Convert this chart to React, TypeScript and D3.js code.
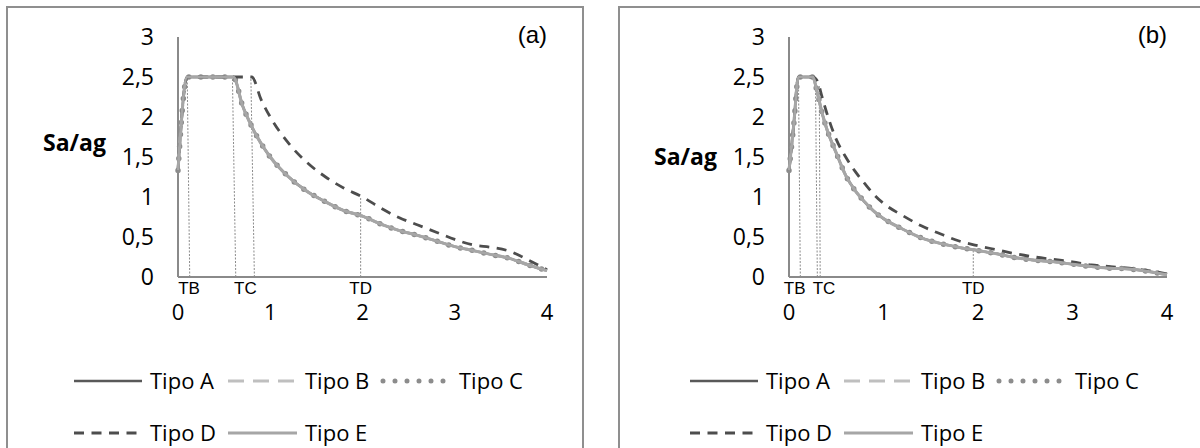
import React from "react";
import * as d3 from "d3";

// ---------- data ----------
const T_PANEL_A = [0, 0.1, 0.2, 0.3, 0.4, 0.5, 0.6, 0.7, 0.8, 0.9, 1.0, 1.2, 1.4, 1.6, 1.8, 2.0, 2.2, 2.4, 2.6, 2.8, 3.0, 3.2, 3.4, 3.6, 3.8, 4.0];
const MAIN_A = [1.33, 2.5, 2.5, 2.5, 2.5, 2.5, 2.5, 2.14, 1.88, 1.67, 1.5, 1.25, 1.07, 0.94, 0.83, 0.76, 0.66, 0.58, 0.52, 0.45, 0.38, 0.33, 0.28, 0.23, 0.15, 0.08];
const TIPO_D_A = [1.33, 2.5, 2.5, 2.5, 2.5, 2.5, 2.5, 2.5, 2.5, 2.22, 2.0, 1.67, 1.43, 1.25, 1.11, 1.0, 0.86, 0.74, 0.65, 0.56, 0.47, 0.4, 0.37, 0.32, 0.21, 0.09];

const T_PANEL_B = [0, 0.05, 0.1, 0.15, 0.2, 0.25, 0.3, 0.35, 0.4, 0.5, 0.6, 0.7, 0.8, 0.9, 1.0, 1.2, 1.4, 1.6, 1.8, 2.0, 2.2, 2.4, 2.6, 2.8, 3.0, 3.2, 3.4, 3.6, 3.8, 4.0];
const MAIN_B = [1.33, 1.9, 2.5, 2.5, 2.5, 2.5, 2.3, 2.05, 1.85, 1.55, 1.27, 1.08, 0.94, 0.82, 0.73, 0.6, 0.49, 0.42, 0.37, 0.33, 0.29, 0.24, 0.21, 0.19, 0.16, 0.13, 0.11, 0.1, 0.07, 0.03];
const TIPO_D_B = [1.33, 1.9, 2.5, 2.5, 2.5, 2.5, 2.45, 2.25, 2.05, 1.72, 1.5, 1.32, 1.17, 1.03, 0.92, 0.77, 0.64, 0.54, 0.45, 0.39, 0.34, 0.29, 0.25, 0.22, 0.19, 0.15, 0.13, 0.11, 0.08, 0.04];

const SERIES_NAMES = ["Tipo A", "Tipo B", "Tipo C", "Tipo D", "Tipo E"];

const Y_TICKS = [0, 0.5, 1, 1.5, 2, 2.5, 3];
const Y_TICK_LABELS = ["0", "0,5", "1", "1,5", "2", "2,5", "3"];
const X_TICKS = [0, 1, 2, 3, 4];
const X_TICK_LABELS = ["0", "1", "2", "3", "4"];

const MARK_LABELS = ["TB", "TC", "TD"];
// [T at axis, T at top, value at top]
const MARK_LINES_A = [[0.127, 0.1, 2.5], [0.626, 0.59, 2.5], [0.828, 0.79, 2.5], [1.98, 1.98, 1.0]];
const MARK_LINES_B = [[0.12, 0.1, 2.5], [0.3, 0.28, 2.45], [0.33, 0.32, 2.4], [1.95, 1.95, 0.35]];
const MARK_LABEL_T_A = [0.12, 0.73, 1.98];
const MARK_LABEL_T_B = [0.06, 0.37, 1.95];

// ---------- styles ----------
const STYLES = [
  { color: "#595959", width: 2.5, dash: null, cap: "butt" },
  { color: "#bfbfbf", width: 3, dash: "16 9", cap: "butt" },
  { color: "#8c8c8c", width: 5.5, dash: "0 12", cap: "round" },
  { color: "#4d4d4d", width: 2.8, dash: "10 7.5", cap: "butt" },
  { color: "#a6a6a6", width: 3, dash: null, cap: "butt" },
];

const FONT = "'Open Sans', sans-serif";
const FONT_ARIAL = "'Liberation Sans', Arial, sans-serif";

type PanelProps = {
  frameX: number;
  frameW: number;
  x0: number;
  x1: number;
  T: number[];
  main: number[];
  tipoD: number[];
  markLines: number[][];
  markLabelT: number[];
  tag: string;
  saY: number;
  legendX: number;
};

function Panel(p: PanelProps) {
  const x = d3.scaleLinear().domain([0, 4]).range([p.x0, p.x1]);
  const y = d3.scaleLinear().domain([0, 3]).range([277, 37]);
  const line = d3
    .line<number>()
    .x((_, i) => x(p.T[i]))
    .y((v) => y(v))
    .curve(d3.curveMonotoneX);
  const seriesData = [p.main, p.main, p.main, p.tipoD, p.main];
  const axisColor = "#8a8a8a";

  const legendCols = [0, 154, 306];
  const legendRows = [381, 433];
  const legendLineLen = [68, 69, 62, 63, 69];
  const legendTextOff = [76, 77, 77, 76, 77];

  return (
    <g>
      <rect x={p.frameX} y={7} width={p.frameW} height={460} fill="#fff" stroke="#8f8f8f" strokeWidth={2} />
      {/* axes */}
      <line x1={x(0)} x2={x(0)} y1={y(0)} y2={y(3)} stroke={axisColor} strokeWidth={2} />
      <line x1={x(0)} x2={x(4)} y1={y(0)} y2={y(0)} stroke={axisColor} strokeWidth={2} />
      {Y_TICKS.map((t, i) => (
        <text key={"yt" + i} x={x(0) - 24} y={y(t)} dy="0.36em" textAnchor="end" fontFamily={FONT} fontSize={23} fill="#000">
          {Y_TICK_LABELS[i]}
        </text>
      ))}
      {X_TICKS.map((t, i) => (
        <text key={"xt" + i} x={x(t)} y={312} dy="0.36em" textAnchor="middle" fontFamily={FONT} fontSize={22} fill="#000">
          {X_TICK_LABELS[i]}
        </text>
      ))}
      <text x={x(0) - 72} y={p.saY} dy="0.36em" textAnchor="end" fontFamily={FONT} fontWeight="bold" fontSize={23} fill="#000">
        Sa/ag
      </text>
      <text x={x(4)} y={43} textAnchor="end" fontFamily={FONT_ARIAL} fontSize={24} fill="#000">
        {p.tag}
      </text>
      {/* annotation lines */}
      {p.markLines.map((m, i) => (
        <line key={"ml" + i} x1={x(m[0])} y1={y(0)} x2={x(m[1])} y2={y(m[2])} stroke="#8c8c8c" strokeWidth={1} strokeDasharray="2 1.5" />
      ))}
      {MARK_LABELS.map((l, i) => (
        <text key={"mlab" + i} x={x(p.markLabelT[i])} y={294} textAnchor="middle" fontFamily={FONT_ARIAL} fontSize={17} fill="#000">
          {l}
        </text>
      ))}
      {/* series */}
      {seriesData.map((d, i) => (
        <path
          key={"s" + i}
          d={line(d) || ""}
          fill="none"
          stroke={STYLES[i].color}
          strokeWidth={STYLES[i].width}
          strokeDasharray={STYLES[i].dash || undefined}
          strokeLinecap={STYLES[i].cap as any}
          strokeLinejoin="round"
        />
      ))}
      {/* legend */}
      {SERIES_NAMES.map((name, i) => {
        const col = i % 3;
        const row = Math.floor(i / 3);
        const lx = p.legendX + legendCols[col] + (i === 2 ? 3 : 0);
        const ly = legendRows[row];
        return (
          <g key={"lg" + i}>
            <line
              x1={lx}
              x2={lx + legendLineLen[i]}
              y1={ly}
              y2={ly}
              stroke={STYLES[i].color}
              strokeWidth={i === 2 ? 5 : STYLES[i].width}
              strokeDasharray={STYLES[i].dash || undefined}
              strokeLinecap={STYLES[i].cap as any}
            />
            <text x={p.legendX + legendCols[col] + legendTextOff[i] + (i === 2 ? 2 : 0)} y={ly} dy="0.36em" fontFamily={FONT} fontSize={22} fill="#000">
              {name}
            </text>
          </g>
        );
      })}
    </g>
  );
}

export default function App() {
  return (
    <svg width={1200} height={448} style={{ position: "absolute", left: 0, top: 0, display: "block", background: "#fff" }}>
      <rect x={0} y={0} width={1200} height={448} fill="#fff" />
      <Panel
        frameX={7}
        frameW={576}
        x0={178}
        x1={547}
        T={T_PANEL_A}
        main={MAIN_A}
        tipoD={TIPO_D_A}
        markLines={MARK_LINES_A}
        markLabelT={MARK_LABEL_T_A}
        tag="(a)"
        saY={143}
        legendX={74}
      />
      <Panel
        frameX={619}
        frameW={600}
        x0={789}
        x1={1167}
        T={T_PANEL_B}
        main={MAIN_B}
        tipoD={TIPO_D_B}
        markLines={MARK_LINES_B}
        markLabelT={MARK_LABEL_T_B}
        tag="(b)"
        saY={157}
        legendX={690}
      />
    </svg>
  );
}
